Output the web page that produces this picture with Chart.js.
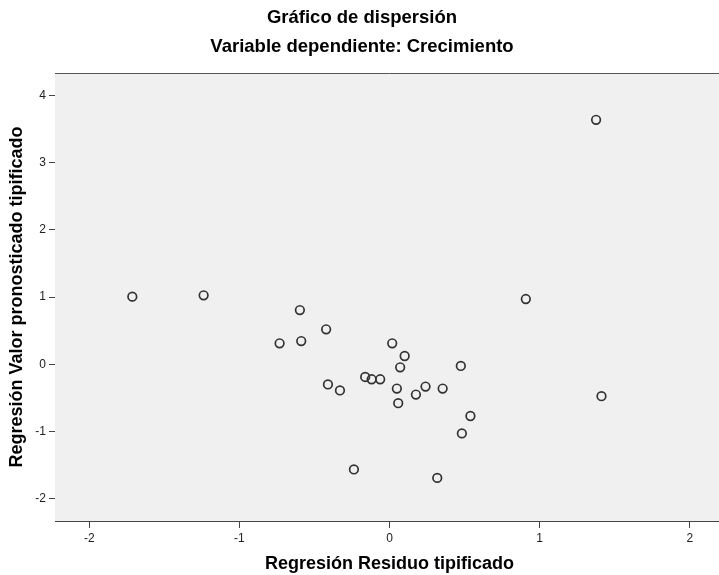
<!DOCTYPE html>
<html>
<head>
<meta charset="utf-8">
<script src="https://cdn.jsdelivr.net/npm/chart.js@4"></script>
<style>
  html, body { margin: 0; padding: 0; background: #ffffff; overflow: hidden; }
  #wrap { width: 719px; height: 575px; overflow: hidden; position: relative; }
  #box { width: 730px; height: 575px; position: absolute; left: 0; top: 0; }
</style>
</head>
<body>
<div id="wrap"><div id="box"><canvas id="c"></canvas></div></div>
<script>
// Data
const titleText = 'Gráfico de dispersión';
const subtitleText = 'Variable dependiente: Crecimiento';
const xAxisTitle = 'Regresión Residuo tipificado';
const yAxisTitle = 'Regresión Valor pronosticado tipificado';

const residuoTipificado = [
  -1.713, -1.238, -0.597, -0.422, -0.732, -0.588, 0.018, 0.101, 0.071,
  0.475, -0.162, -0.119, -0.062, -0.410, -0.330, 0.049, 0.240, 0.354,
  0.176, 0.058, 0.539, 0.482, 1.376, 0.908, 1.412, -0.237, 0.318
];
const pronosticadoTipificado = [
  1.005, 1.025, 0.806, 0.520, 0.312, 0.345, 0.312, 0.123, -0.045,
  -0.025, -0.189, -0.223, -0.223, -0.300, -0.389, -0.361, -0.331, -0.361,
  -0.450, -0.579, -0.769, -1.028, 3.634, 0.970, -0.475, -1.564, -1.689
];
const xTicks = [-2, -1, 0, 1, 2];
const yTicks = [-2, -1, 0, 1, 2, 3, 4];

const FONT = "'Liberation Sans', Arial, sans-serif";
const points = residuoTipificado.map((x, i) => ({ x: x, y: pronosticadoTipificado[i] }));

const frame = {
  id: 'frame',
  beforeDatasetsDraw(chart) {
    const { ctx, chartArea: a } = chart;
    ctx.save();
    ctx.fillStyle = '#f0f0f0';
    ctx.fillRect(a.left, a.top, a.right - a.left, a.bottom - a.top);
    ctx.strokeStyle = '#555555';
    ctx.lineWidth = 1;
    ctx.beginPath();
    ctx.moveTo(a.left, a.top + 0.5);
    ctx.lineTo(a.right, a.top + 0.5);
    ctx.stroke();
    ctx.restore();
  }
};

new Chart(document.getElementById('c'), {
  type: 'scatter',
  data: {
    datasets: [{
      data: points,
      pointRadius: 4.3,
      pointHoverRadius: 4.3,
      pointBorderWidth: 1.7,
      pointBorderColor: '#333333',
      pointBackgroundColor: 'rgba(0,0,0,0)'
    }]
  },
  options: {
    responsive: true,
    maintainAspectRatio: false,
    animation: false,
    layout: { padding: { left: 0, right: 6, top: 0, bottom: 0 } },
    plugins: {
      legend: { display: false },
      tooltip: { enabled: false },
      title: {
        display: true,
        text: titleText,
        color: '#000000',
        font: { family: FONT, size: 18.5, weight: 'bold', lineHeight: 1.2 },
        padding: { top: 7, bottom: 6.7 }
      },
      subtitle: {
        display: true,
        text: subtitleText,
        color: '#000000',
        font: { family: FONT, size: 18.5, weight: 'bold', lineHeight: 1.2 },
        padding: { top: 0, bottom: 14.9 }
      }
    },
    scales: {
      x: {
        type: 'linear',
        position: 'bottom',
        min: -2.228,
        max: 2.228,
        afterFit(s) { s.height = 54; },
        afterBuildTicks(s) { s.ticks = xTicks.map(v => ({ value: v })); },
        ticks: { includeBounds: false, stepSize: 1, color: '#222222', font: { family: FONT, size: 12 }, padding: 3, maxRotation: 0 },
        grid: { drawOnChartArea: false, drawTicks: true, tickLength: 7, color: '#444444' },
        border: { display: true, color: '#444444', width: 1 },
        title: { display: true, text: xAxisTitle, color: '#000000', font: { family: FONT, size: 18, weight: 'bold', lineHeight: 1.2 }, padding: { top: 0, bottom: 0 } }
      },
      y: {
        type: 'linear',
        position: 'left',
        min: -2.33,
        max: 4.33,
        afterFit(s) { s.width = 55; },
        afterBuildTicks(s) { s.ticks = yTicks.map(v => ({ value: v })); },
        ticks: { includeBounds: false, stepSize: 1, color: '#222222', font: { family: FONT, size: 12 }, padding: 3 },
        grid: { drawOnChartArea: false, drawTicks: true, tickLength: 6, color: '#444444' },
        border: { display: true, color: '#444444', width: 1 },
        title: { display: true, text: yAxisTitle, color: '#000000', font: { family: FONT, size: 18, weight: 'bold', lineHeight: 1.2 }, padding: { top: 6, bottom: 0 } }
      }
    }
  },
  plugins: [frame]
});
</script>
</body>
</html>
